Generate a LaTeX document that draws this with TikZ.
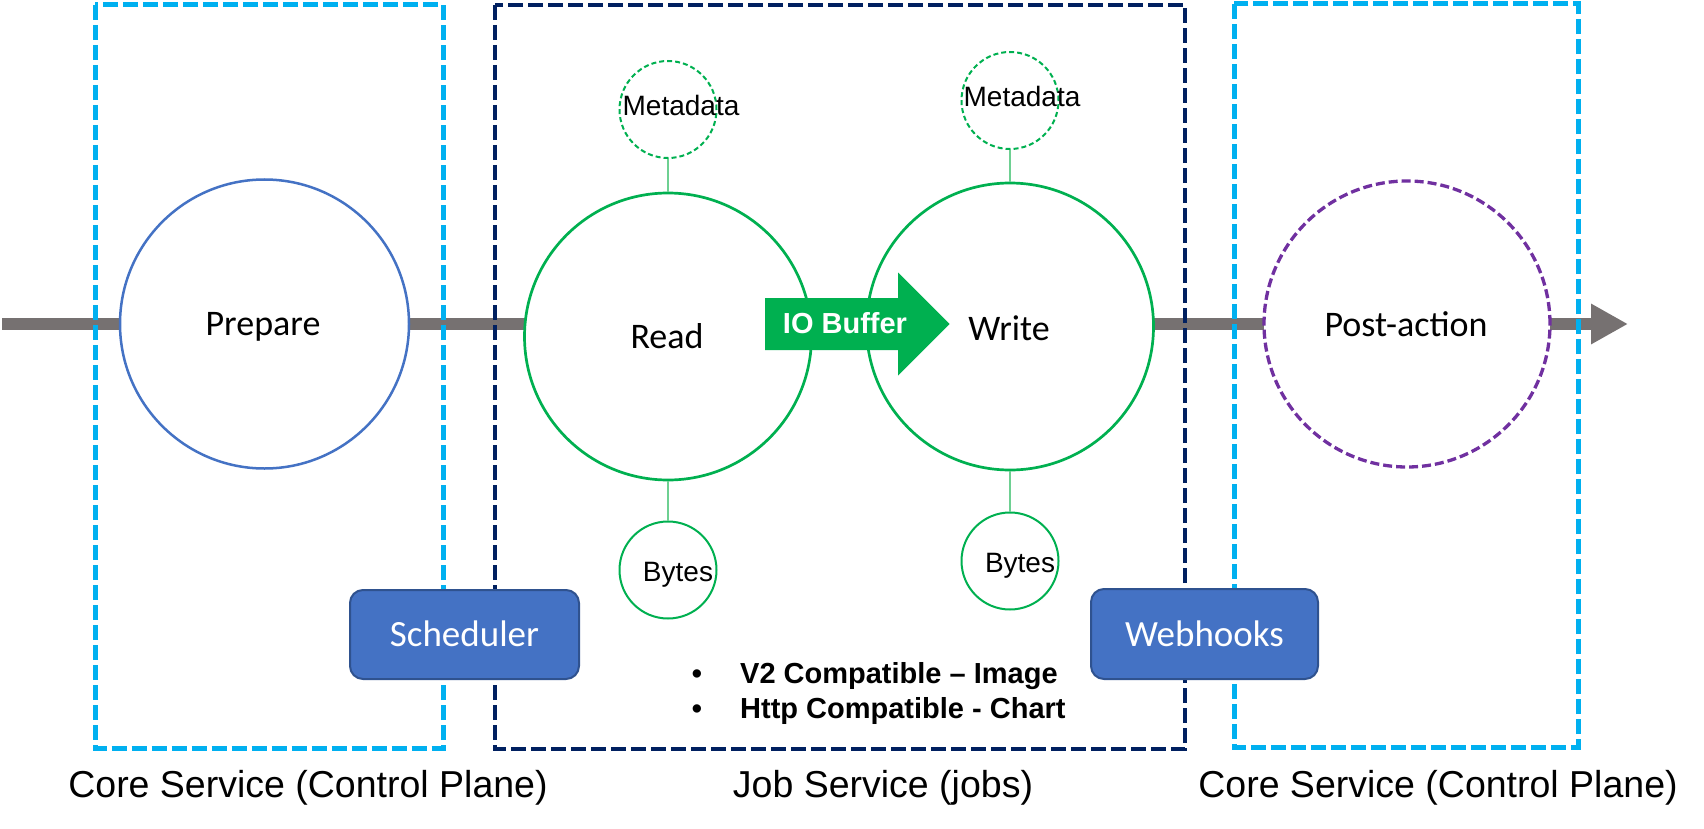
\documentclass[tikz,border=0pt]{standalone}
\usepackage{fontspec}
\setmainfont{Carlito}
\newfontfamily\arialf{Liberation Sans}
\usetikzlibrary{arrows.meta}
\definecolor{flowgray}{HTML}{767171}
\definecolor{ltblue}{HTML}{00B0F0}
\definecolor{navy}{HTML}{002060}
\definecolor{prepblue}{HTML}{4472C4}
\definecolor{boxedge}{HTML}{2F528F}
\definecolor{grn}{HTML}{00B050}
\definecolor{ltgrn}{RGB}{110,208,146}
\definecolor{purp}{HTML}{7030A0}
\begin{document}
\begin{tikzpicture}[x=1pt,y=-1pt,
  zone/.style={line width=5pt, dash pattern=on 15pt off 5pt},
  bigc/.style={circle, inner sep=0pt, minimum size=287pt, fill=white, line width=2.7pt},
  smallc/.style={circle, inner sep=0pt, minimum size=97pt, draw=grn, line width=2pt},
  link/.style={draw=ltgrn, line width=2pt},
  lbl/.style={inner sep=0pt, anchor=base, font=\fontsize{36pt}{40pt}\selectfont},
  slbl/.style={inner sep=0pt, anchor=base, font=\arialf\fontsize{28pt}{32pt}\selectfont},
  zlbl/.style={inner sep=0pt, anchor=base, font=\arialf\fontsize{37.5pt}{42pt}\selectfont},
  btn/.style={rectangle, rounded corners=13pt, fill=prepblue, draw=boxedge, line width=2pt, minimum width=229pt, minimum height=89pt, text=white, text height=24pt, text depth=0pt, inner sep=0pt, font=\fontsize{37pt}{40pt}\selectfont},
  bul/.style={inner sep=0pt, anchor=base west, font=\arialf\bfseries\fontsize{29pt}{33pt}\selectfont}
]
\useasboundingbox (0,0) rectangle (1704,829);

% main flow line
\coordinate (lstart) at (2,324);
\coordinate (lend) at (1628,324);
\draw[flowgray, line width=12pt, -{Triangle[length=37pt,width=38pt]}] (lstart) -- (lend);

% zones
\draw[zone, ltblue] (95,5) rectangle (443,748.5);
\draw[zone, navy, line width=4.5pt] (495,5) rectangle (1185,749);
\draw[zone, ltblue] (1234,3.8) rectangle (1578,747);

% big circles
\node[bigc, draw=prepblue, minimum size=289pt, line width=2.5pt] (prep) at (264.5,324) {};
\node[bigc, draw=grn] (read) at (668,336.5) {};
\node[bigc, draw=grn] (write) at (1010,326.5) {};
\node[bigc, draw=purp, line width=3.3pt, dash pattern=on 9pt off 4pt, minimum size=286pt] (post) at (1407,324) {};

% small circles
\node[smallc, dash pattern=on 5pt off 3pt] (mdr) at (668,109.5) {};
\node[smallc, dash pattern=on 5pt off 3pt] (mdw) at (1010,100.5) {};
\node[smallc] (byr) at (668,570) {};
\node[smallc] (byw) at (1010,561) {};
\draw[link] (mdr.south) -- (read.north);
\draw[link] (read.south) -- (byr.north);
\draw[link] (mdw.south) -- (write.north);
\draw[link] (write.south) -- (byw.north);

% IO buffer arrow
\fill[grn] (765,298) -- (898,298) -- (898,272.5) -- (949.5,324) -- (898,375.5) -- (898,350) -- (765,350) -- cycle;
\node[inner sep=0pt, anchor=base, text=white, font=\arialf\bfseries\fontsize{29pt}{33pt}\selectfont] (io) at (845,333) {IO Buffer};

% labels
\node[lbl] (tprep) at (263,335) {Prepare};
\node[lbl] (tread) at (667,348) {Read};
\node[lbl] (twrite) at (1009,340) {Write};
\node[lbl] (tpost) at (1406,336) {Post-action};
\node[slbl] (tmdr) at (681,116) {Metadata};
\node[slbl] (tmdw) at (1022,107) {Metadata};
\node[slbl] (tbyr) at (678,581) {Bytes};
\node[slbl] (tbyw) at (1020,572) {Bytes};

% buttons
\node[btn] (sched) at (464.5,634.5) {Scheduler};
\node[btn, minimum width=227pt, minimum height=90pt] (hooks) at (1204.5,634) {Webhooks};

% bullets
\node[bul, anchor=base] (b1) at (697,683) {•};
\node[bul] (l1) at (740,683) {V2 Compatible – Image};
\node[bul, anchor=base] (b2) at (697,718) {•};
\node[bul] (l2) at (740,718) {Http Compatible - Chart};

% zone labels
\node[zlbl] (z1) at (308,797) {Core Service (Control Plane)};
\node[zlbl] (z2) at (883,797) {Job Service (jobs)};
\node[zlbl] (z3) at (1438,797) {Core Service (Control Plane)};
\end{tikzpicture}
\end{document}
